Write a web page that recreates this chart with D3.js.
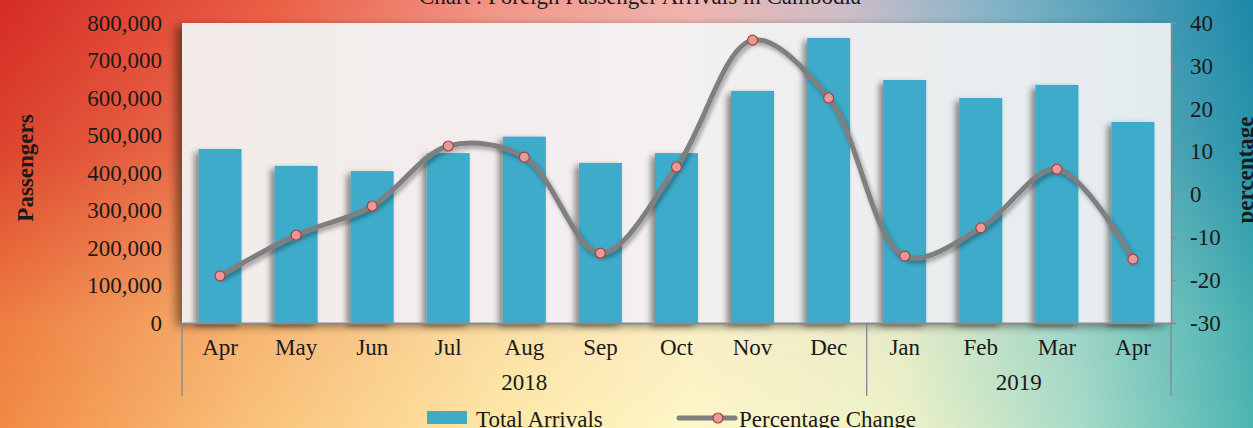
<!DOCTYPE html>
<html>
<head>
<meta charset="utf-8">
<script src="https://cdn.jsdelivr.net/npm/d3@7"></script>
<style>
  html, body { margin: 0; padding: 0; overflow: hidden; }
  svg { display: block; }
  text { font-family: "Liberation Serif", "DejaVu Serif", serif; fill: #1a1a1a; }
</style>
</head>
<body>
<script>
// chart size
var w = 1253;
var h = 428;

// data
var months = ["Apr", "May", "Jun", "Jul", "Aug", "Sep", "Oct", "Nov", "Dec", "Jan", "Feb", "Mar", "Apr"];
var years = ["2018", "2018", "2018", "2018", "2018", "2018", "2018", "2018", "2018", "2019", "2019", "2019", "2019"];
var arrivals = [464000, 419000, 405000, 453000, 497000, 427000, 453000, 619000, 760000, 648000, 600000, 635000, 536000];
var pctChange = [-19.0, -9.5, -2.7, 11.3, 8.7, -13.7, 6.4, 36.0, 22.5, -14.4, -7.8, 5.9, -15.1];
var leftTicks = [0, 100000, 200000, 300000, 400000, 500000, 600000, 700000, 800000];
var rightTicks = [-30, -20, -10, 0, 10, 20, 30, 40];

var keys = months.map(function(m, i) { return i; });

var m = {left: 182, right: 1171, top: 23, bottom: 323};
var fs = "23px";

var svg = d3.select("body")
    .append("svg")
    .attr("width", w)
    .attr("height", h);

var defs = svg.append("defs");

// background: top row and bottom row gradients blended by a vertical mask
function hGrad(id, stops) {
  var g = defs.append("linearGradient").attr("id", id)
      .attr("x1", 0).attr("x2", 1).attr("y1", 0).attr("y2", 0);
  stops.forEach(function(s) {
    g.append("stop").attr("offset", s[0]).attr("stop-color", s[1]);
  });
}
hGrad("bgTop", [[0, "#d42b26"], [0.22, "#ea5f45"], [0.4, "#f2958a"], [0.55, "#efb3ae"], [0.68, "#c9bcc8"], [0.8, "#7fb2c6"], [1, "#1c88a8"]]);
hGrad("bgBot", [[0, "#f28a45"], [0.2, "#f9c27a"], [0.4, "#fde9a8"], [0.55, "#fdf7c8"], [0.72, "#eef2c8"], [0.86, "#a8dcc8"], [1, "#4cb6b2"]]);
hGrad("plotFill", [[0, "#f2ebea"], [0.5, "#f3f0ef"], [1, "#e3ebef"]]);

var vg = defs.append("linearGradient").attr("id", "vMask")
    .attr("x1", 0).attr("x2", 0).attr("y1", 0).attr("y2", 1);
vg.append("stop").attr("offset", 0).attr("stop-color", "#fff");
vg.append("stop").attr("offset", 0.35).attr("stop-color", "#bbb");
vg.append("stop").attr("offset", 0.75).attr("stop-color", "#222");
vg.append("stop").attr("offset", 1).attr("stop-color", "#000");
defs.append("mask").attr("id", "topMask")
  .append("rect").attr("width", w).attr("height", h).attr("fill", "url(#vMask)");

var sh = defs.append("filter").attr("id", "shadow")
    .attr("x", "-30%").attr("y", "-10%").attr("width", "160%").attr("height", "130%");
sh.append("feDropShadow").attr("dx", -4).attr("dy", 3).attr("stdDeviation", 3)
  .attr("flood-color", "#000").attr("flood-opacity", 0.45);

var sh2 = defs.append("filter").attr("id", "lineShadow")
    .attr("x", "-10%").attr("y", "-20%").attr("width", "120%").attr("height", "140%");
sh2.append("feDropShadow").attr("dx", 2).attr("dy", 3).attr("stdDeviation", 2)
  .attr("flood-color", "#000").attr("flood-opacity", 0.35);

var sh3 = defs.append("filter").attr("id", "boxShadow")
    .attr("x", "-5%").attr("y", "-10%").attr("width", "110%").attr("height", "120%");
sh3.append("feDropShadow").attr("dx", -6).attr("dy", 3).attr("stdDeviation", 5)
  .attr("flood-color", "#000").attr("flood-opacity", 0.45);

svg.append("rect").attr("width", w).attr("height", h).attr("fill", "url(#bgBot)");
svg.append("rect").attr("width", w).attr("height", h).attr("fill", "url(#bgTop)")
  .attr("mask", "url(#topMask)");

// title, cut off at the top edge as in the source
svg.append("text")
    .attr("x", 640)
    .attr("y", 4)
    .attr("text-anchor", "middle")
    .attr("font-size", fs)
    .text("Chart : Foreign Passenger Arrivals in Cambodia");

// scales
var x = d3.scaleBand().domain(keys).range([m.left, m.right]).paddingInner(0.435).paddingOuter(0.2175);
var xc = d3.scaleBand().domain(keys).range([m.left, m.right]);
var y = d3.scaleLinear().domain([0, 800000]).range([m.bottom, m.top]);
var y2 = d3.scaleLinear().domain([-30, 40]).range([m.bottom, m.top]);

// plot area
svg.append("rect")
    .attr("x", m.left).attr("y", m.top)
    .attr("width", m.right - m.left).attr("height", m.bottom - m.top)
    .attr("fill", "url(#plotFill)")
    .attr("filter", "url(#boxShadow)");

// gridlines
svg.append("g").selectAll("line")
    .data(leftTicks.slice(1, -1))
    .enter()
    .append("line")
    .attr("x1", m.left)
    .attr("x2", m.right)
    .attr("y1", function(d) { return y(d) + 0.5; })
    .attr("y2", function(d) { return y(d) + 0.5; })
    .attr("stroke", "#7d7272")
    .attr("stroke-width", 1.6)
    .attr("filter", "url(#lineShadow)");

// bars
svg.append("g").selectAll("rect")
    .data(arrivals)
    .enter()
    .append("rect")
    .attr("x", function(d, i) { return x(i); })
    .attr("y", function(d) { return y(d); })
    .attr("width", x.bandwidth())
    .attr("height", function(d) { return y(0) - y(d); })
    .attr("fill", "#3eabc9")
    .attr("filter", "url(#shadow)");

// left axis
var yAxis = d3.axisLeft(y).tickValues(leftTicks).tickSize(0).tickPadding(20)
    .tickFormat(d3.format(","));
var gy = svg.append("g").attr("transform", "translate(" + m.left + ",0)").call(yAxis);
gy.select(".domain").remove();
gy.selectAll("text").attr("font-size", fs).attr("font-family", "Liberation Serif, serif").attr("fill", "#1a1a1a");

// right axis
var y2Axis = d3.axisRight(y2).tickValues(rightTicks).tickSize(5).tickPadding(14)
    .tickFormat(function(d) { return String(d); });
var gy2 = svg.append("g").attr("transform", "translate(" + m.right + ",0)").call(y2Axis);
gy2.select(".domain").attr("stroke", "#8a8a8a").attr("stroke-width", 1.5);
gy2.selectAll(".tick line").attr("stroke", "#8a8a8a").attr("stroke-width", 1.5);
gy2.selectAll("text").attr("font-size", fs).attr("font-family", "Liberation Serif, serif").attr("fill", "#1a1a1a")
    .attr("text-anchor", "start");

// bottom axis: months
var xAxis = d3.axisBottom(xc).tickSize(0).tickPadding(16)
    .tickFormat(function(i) { return months[i]; });
var gx = svg.append("g").attr("transform", "translate(0," + m.bottom + ")").call(xAxis);
gx.select(".domain").attr("stroke", "#8c8c8c").attr("stroke-width", 2);
gx.selectAll("text").attr("font-size", fs).attr("font-family", "Liberation Serif, serif").attr("fill", "#1a1a1a");

// year groups
var groups = d3.groups(keys, function(i) { return years[i]; });
var gYears = svg.append("g");
var bounds = [m.left];
groups.forEach(function(g) {
  var first = g[1][0], last = g[1][g[1].length - 1];
  var x0 = xc(first), x1 = xc(last) + xc.bandwidth();
  bounds.push(x1);
  gYears.append("text")
      .attr("x", (x0 + x1) / 2)
      .attr("y", 390)
      .attr("text-anchor", "middle")
      .attr("font-size", fs)
      .text(g[0]);
});
gYears.selectAll("line")
    .data(bounds)
    .enter()
    .append("line")
    .attr("x1", function(d) { return d; })
    .attr("x2", function(d) { return d; })
    .attr("y1", m.bottom)
    .attr("y2", 396)
    .attr("stroke", "#7c8a96")
    .attr("stroke-width", 1.3);

// percentage line
var line = d3.line()
    .x(function(d, i) { return xc(i) + xc.bandwidth() / 2; })
    .y(function(d) { return y2(d); })
    .curve(d3.curveCatmullRom.alpha(0.5));

svg.append("path")
    .datum(pctChange)
    .attr("d", line)
    .attr("fill", "none")
    .attr("stroke", "#7f7f7f")
    .attr("stroke-width", 5)
    .attr("stroke-linecap", "round")
    .attr("filter", "url(#lineShadow)");

svg.append("g").selectAll("circle")
    .data(pctChange)
    .enter()
    .append("circle")
    .attr("cx", function(d, i) { return xc(i) + xc.bandwidth() / 2; })
    .attr("cy", function(d) { return y2(d); })
    .attr("r", 5)
    .attr("fill", "#e59a9a")
    .attr("stroke", "#b43a3a")
    .attr("stroke-width", 1.2);

// axis titles
svg.append("text")
    .attr("transform", "translate(33,168) rotate(-90)")
    .attr("text-anchor", "middle")
    .attr("font-size", fs)
    .attr("font-weight", "bold")
    .text("Passengers");

svg.append("text")
    .attr("transform", "translate(1253,170) rotate(-90)")
    .attr("text-anchor", "middle")
    .attr("font-size", fs)
    .attr("font-weight", "bold")
    .text("percentage");

// legend
var lg = svg.append("g");
lg.append("rect").attr("x", 427).attr("y", 411).attr("width", 40).attr("height", 13).attr("fill", "#3eabc9");
lg.append("text").attr("x", 476).attr("y", 427).attr("font-size", fs).text("Total Arrivals");
lg.append("line").attr("x1", 679).attr("x2", 735).attr("y1", 418).attr("y2", 418)
    .attr("stroke", "#7f7f7f").attr("stroke-width", 5).attr("stroke-linecap", "round");
lg.append("circle").attr("cx", 718).attr("cy", 418).attr("r", 5)
    .attr("fill", "#e59a9a").attr("stroke", "#b43a3a").attr("stroke-width", 1.2);
lg.append("text").attr("x", 739).attr("y", 427).attr("font-size", fs).text("Percentage Change");
</script>
</body>
</html>
